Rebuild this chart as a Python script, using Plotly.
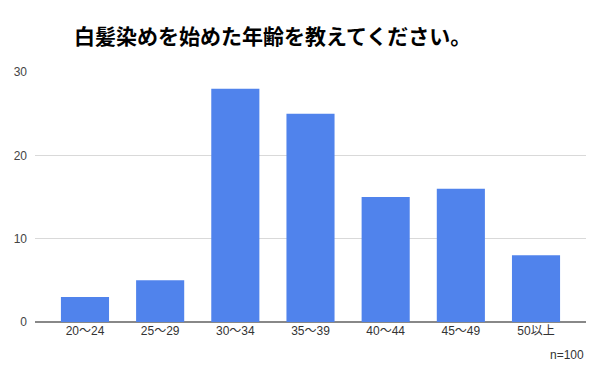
import plotly.graph_objects as go

categories = ["20～24", "25～29", "30～34", "35～39", "40～44", "45～49", "50以上"]
values = [3, 5, 28, 25, 15, 16, 8]
y_ticks = [0, 10, 20, 30]
title_text = "白髪染めを始めた年齢を教えてください。"
note_text = "n=100"

L, R, T, B = 35, 14, 72, 59
fig = go.Figure(go.Bar(
    x=list(range(len(categories))), y=values,
    marker=dict(color="#5083EC", line=dict(width=0)),
    width=0.64,
))
fig.update_layout(
    width=600, height=381,
    margin=dict(l=L, r=R, t=T, b=B),
    paper_bgcolor="white", plot_bgcolor="white",
    showlegend=False,
    font=dict(family="Arial, Liberation Sans, sans-serif", color="#444444", size=12),
    xaxis=dict(
        range=[-0.665, 6.665],
        tickmode="array", tickvals=list(range(len(categories))), ticktext=categories,
        showgrid=False, zeroline=False, showline=False, ticks="",
        tickfont=dict(family="Arial, Noto Sans CJK JP, sans-serif", size=12, color="#333333"),
        fixedrange=True,
    ),
    yaxis=dict(
        range=[0, 30], tickmode="array", tickvals=y_ticks,
        showgrid=True, gridcolor="#D9D9D9", gridwidth=1,
        zeroline=True, zerolinecolor="#888888", zerolinewidth=1.5,
        showline=False, ticks="", ticklabelstandoff=7,
        tickfont=dict(size=12, color="#444444"),
    ),
    annotations=[
        dict(text="<b>" + title_text + "</b>", xref="paper", yref="paper",
             x=(72 - L) / (600 - L - R), y=1 + (72 - 35) / (381 - T - B),
             xanchor="left", yanchor="middle", showarrow=False,
             font=dict(family="Noto Sans CJK JP", size=21, color="#000000")),
        dict(text=note_text, xref="paper", yref="paper",
             x=1, y=-(355 - 322) / (381 - T - B),
             xanchor="right", yanchor="middle", showarrow=False,
             font=dict(size=12, color="#333333")),
    ],
)
fig.write_html("out.html")
